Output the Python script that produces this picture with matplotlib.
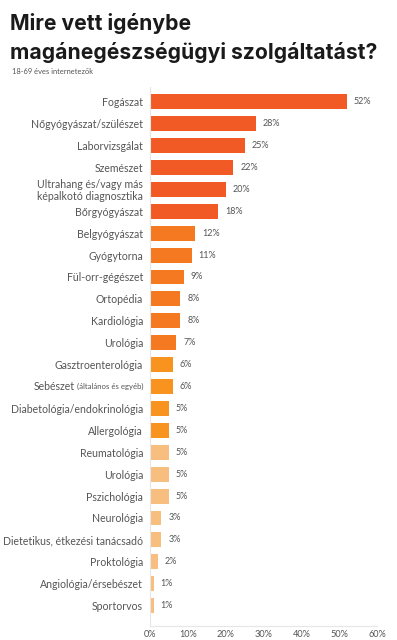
import matplotlib
matplotlib.use("Agg")
import matplotlib.pyplot as plt

# data
categories = [
    "Fogászat", "Nőgyógyászat/szülészet", "Laborvizsgálat", "Szemészet",
    "Ultrahang és/vagy más\nképalkotó diagnosztika", "Bőrgyógyászat",
    "Belgyógyászat", "Gyógytorna", "Fül-orr-gégészet", "Ortopédia",
    "Kardiológia", "Urológia", "Gasztroenterológia", "Sebészet",
    "Diabetológia/endokrinológia", "Allergológia", "Reumatológia",
    "Urológia", "Pszichológia", "Neurológia",
    "Dietetikus, étkezési tanácsadó", "Proktológia",
    "Angiológia/érsebészet", "Sportorvos",
]
values = [52, 28, 25, 22, 20, 18, 12, 11, 9, 8, 8, 7, 6, 6, 5, 5, 5, 5, 5, 3, 3, 2, 1, 1]
groups = [0] * 6 + [1] * 6 + [2] * 4 + [3] * 8
xticks = [0, 10, 20, 30, 40, 50, 60]

palette = ["#F15A24", "#F47920", "#F7931E", "#F7BE80"]
label_col = "#555555"

plt.rcParams["font.family"] = ["Lato", "DejaVu Sans"]

fig = plt.figure(figsize=(3.97, 6.40), dpi=100)
ax = fig.add_axes([150 / 397, 1 - 626 / 640, 227 / 397, (626 - 87) / 640])

ypos = list(range(len(categories)))
colors = [palette[g] for g in groups]
ax.barh(ypos, values, height=0.68, color=colors)

for y, v in zip(ypos, values):
    ax.annotate(f"{v}%", (v, y), xytext=(5, 0), textcoords="offset points",
                va="center", ha="left", fontsize=6.5, color=label_col)

ypad = 5
ax.set_xlim(0, 60)
ax.set_ylim(23.93, -0.67)
ax.set_yticks(ypos)
ticklabels = [c if c != "Sebészet" else "" for c in categories]
ax.set_yticklabels(ticklabels, fontsize=7.6, color=label_col, linespacing=1.05)
ax.set_xticks(xticks)
ax.set_xticklabels([f"{t}%" for t in xticks], fontsize=6.6, color=label_col)
ax.tick_params(length=0)
ax.tick_params(axis="y", pad=ypad)
ax.tick_params(axis="x", pad=3)

for s in ["top", "right"]:
    ax.spines[s].set_visible(False)
for s in ["left", "bottom"]:
    ax.spines[s].set_color("#E6E6E6")
    ax.spines[s].set_linewidth(0.8)

# mixed-size label for Sebészet
idx = categories.index("Sebészet")
fig.canvas.draw()
r = fig.canvas.get_renderer()
x_px = ax.transAxes.transform((0, 0))[0] - ypad * 100 / 72
y_px = ax.transData.transform((0, idx))[1]
small = fig.text(x_px / 397, y_px / 640, "(általános és egyéb)", fontsize=5.6,
                 color=label_col, ha="right", va="center")
bb = small.get_window_extent(r)
fig.text((bb.x0 - 2) / 397, y_px / 640, "Sebészet", fontsize=7.6,
         color=label_col, ha="right", va="center")

fig.text(10 / 397, 1 - 38 / 640, "Mire vett igénybe\nmagánegészségügyi szolgáltatást?",
         fontsize=15.2, fontweight="bold", family=["Inter", "DejaVu Sans"],
         color="#1a1a1a", ha="left", va="center", linespacing=1.45)
fig.text(12 / 397, 1 - 72 / 640, "18-69 éves internetezők", fontsize=5.4,
         color=label_col, ha="left", va="center")

fig.savefig("out.png", dpi=100)
